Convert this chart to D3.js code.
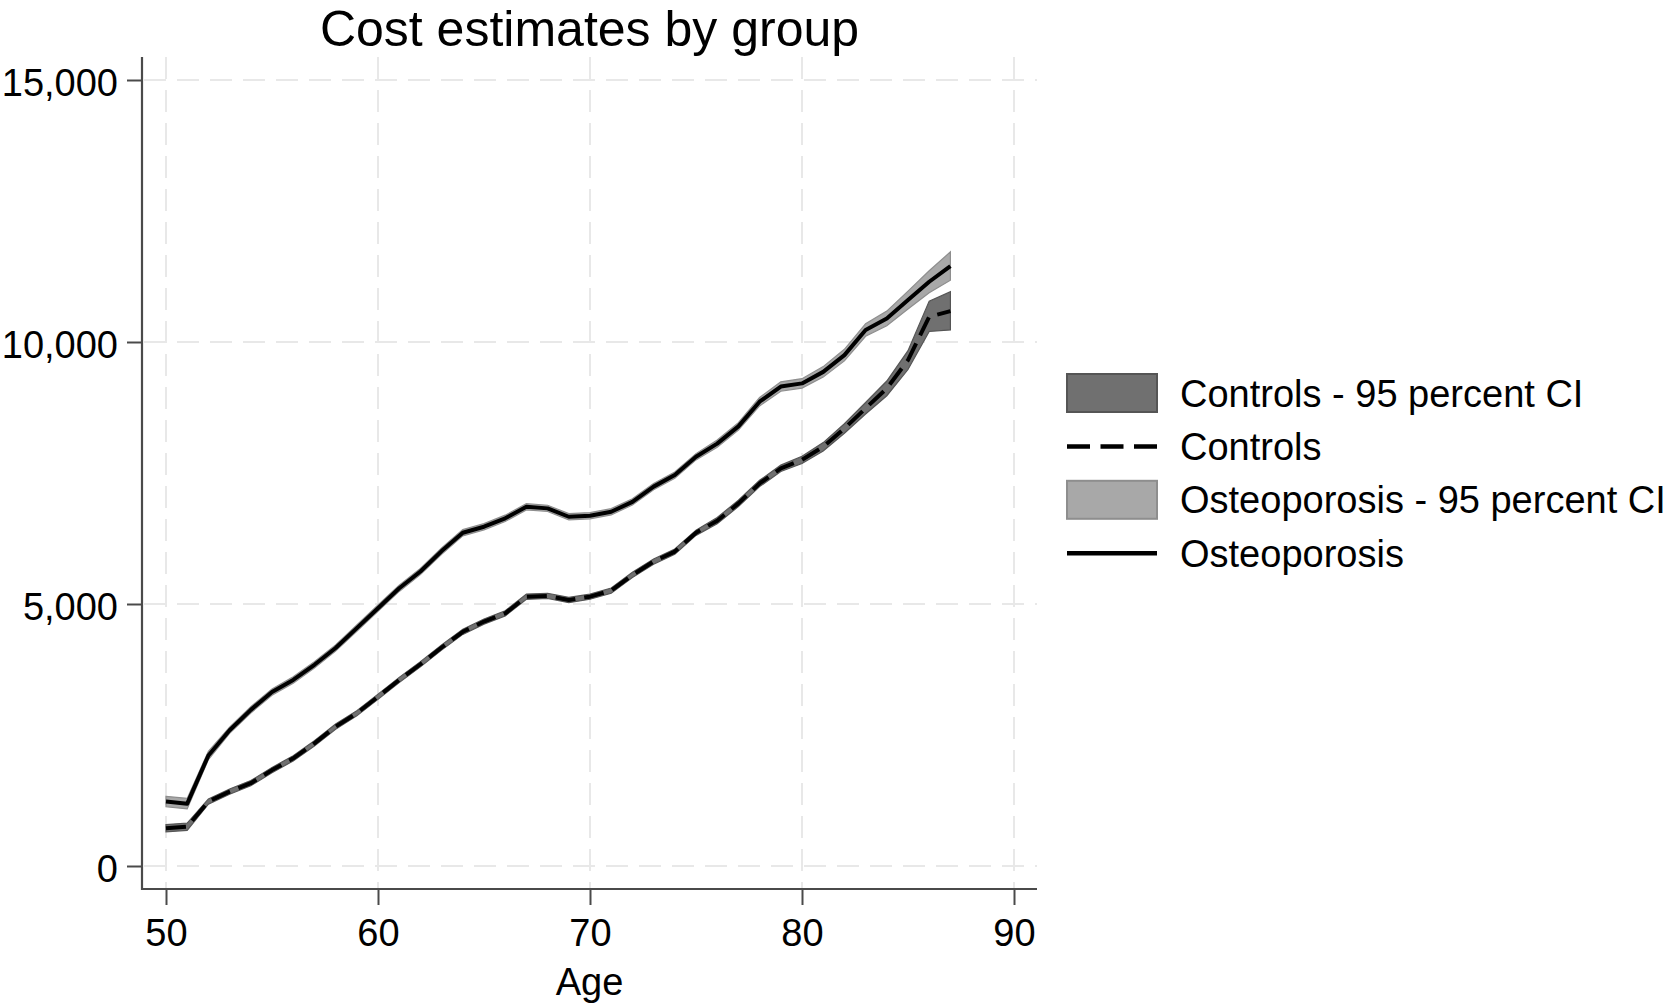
<!DOCTYPE html>
<html>
<head>
<meta charset="utf-8">
<script src="https://cdn.jsdelivr.net/npm/d3@7"></script>
<style>
  body { margin: 0; background: #fff; }
  text { font-family: "Liberation Sans", Arial, sans-serif; fill: #000; }
</style>
</head>
<body>
<svg id="chart" width="1674" height="1006"></svg>
<script>
'use strict';

// data (age 50..87)
const ages = [50, 51, 52, 53, 54, 55, 56, 57, 58, 59, 60, 61, 62, 63, 64, 65, 66, 67, 68,
  69, 70, 71, 72, 73, 74, 75, 76, 77, 78, 79, 80, 81, 82, 83, 84, 85, 86, 87];

const ostMean = [1230, 1190, 2110, 2590, 2980, 3320, 3550, 3840, 4160, 4540, 4920, 5300,
  5620, 6010, 6360, 6475, 6635, 6855, 6825, 6665, 6685, 6760, 6950, 7240, 7460, 7810,
  8060, 8390, 8860, 9150, 9210, 9430, 9750, 10230, 10450, 10800, 11150, 11450];
const ostLo = [1130, 1090, 2030, 2530, 2920, 3260, 3490, 3780, 4100, 4480, 4860, 5240,
  5560, 5950, 6300, 6415, 6575, 6795, 6765, 6605, 6625, 6700, 6890, 7180, 7400, 7750,
  7990, 8320, 8780, 9060, 9120, 9330, 9640, 10110, 10310, 10630, 10940, 11180];
const ostHi = [1330, 1290, 2190, 2650, 3040, 3380, 3610, 3900, 4220, 4600, 4980, 5360,
  5680, 6070, 6420, 6535, 6695, 6915, 6885, 6725, 6745, 6820, 7010, 7300, 7520, 7870,
  8130, 8460, 8940, 9240, 9300, 9530, 9860, 10350, 10590, 10970, 11360, 11720];

const ctlMean = [720, 750, 1230, 1420, 1580, 1830, 2055, 2340, 2660, 2915, 3230, 3550,
  3850, 4170, 4470, 4665, 4820, 5140, 5155, 5075, 5140, 5255, 5555, 5810, 6000, 6360,
  6590, 6920, 7300, 7590, 7750, 8000, 8350, 8735, 9115, 9655, 10480, 10590];
const ctlLo = [650, 680, 1180, 1370, 1530, 1780, 2005, 2290, 2610, 2865, 3180, 3500,
  3800, 4120, 4420, 4615, 4770, 5090, 5105, 5025, 5090, 5205, 5505, 5760, 5950, 6310,
  6530, 6860, 7240, 7530, 7680, 7920, 8260, 8625, 8975, 9475, 10200, 10230];
const ctlHi = [790, 820, 1280, 1470, 1630, 1880, 2105, 2390, 2710, 2965, 3280, 3600,
  3900, 4220, 4520, 4715, 4870, 5190, 5205, 5125, 5190, 5305, 5605, 5860, 6050, 6410,
  6650, 6980, 7360, 7650, 7820, 8080, 8440, 8845, 9255, 9835, 10780, 10960];

const xTicks = [50, 60, 70, 80, 90];
const yTicks = [0, 5000, 10000, 15000];
const legendLabels = ['Controls - 95 percent CI', 'Controls',
  'Osteoporosis - 95 percent CI', 'Osteoporosis'];

const svg = d3.select('#chart');

// plot region
const plot = { left: 142, right: 1037, top: 57, bottom: 889 };

const x = d3.scaleLinear().domain([50, 90]).range([166, 1014]);
const y = d3.scaleLinear().domain([0, 15000]).range([866, 80]);

//gridlines
const gridColor = '#e8e8e8';
svg.append('g')
  .selectAll('line')
  .data(yTicks)
  .join('line')
  .attr('x1', plot.left + 2).attr('x2', plot.right)
  .attr('y1', (d) => y(d)).attr('y2', (d) => y(d))
  .attr('stroke', gridColor).attr('stroke-width', 2)
  .attr('stroke-dasharray', '22,11');
svg.append('g')
  .selectAll('line')
  .data(xTicks)
  .join('line')
  .attr('x1', (d) => x(d)).attr('x2', (d) => x(d))
  .attr('y1', plot.top).attr('y2', plot.bottom)
  .attr('stroke', gridColor).attr('stroke-width', 2)
  .attr('stroke-dasharray', '22,11');

const rows = ages.map((a, i) => ({
  age: a, om: ostMean[i], ol: ostLo[i], oh: ostHi[i],
  cm: ctlMean[i], cl: ctlLo[i], ch: ctlHi[i],
}));

const band = (lo, hi) => d3.area().x((d) => x(d.age)).y0((d) => y(d[lo])).y1((d) => y(d[hi]));
const line = (key) => d3.line().x((d) => x(d.age)).y((d) => y(d[key]));

const ctlFill = '#707070', ctlEdge = '#555555';
const ostFill = '#a8a8a8', ostEdge = '#8e8e8e';

// controls CI + line
svg.append('path').datum(rows)
  .attr('d', band('cl', 'ch'))
  .attr('fill', ctlFill).attr('stroke', ctlEdge).attr('stroke-width', 1.2);
svg.append('path').datum(rows)
  .attr('d', line('cm'))
  .attr('fill', 'none').attr('stroke', '#000').attr('stroke-width', 4)
  .attr('stroke-dasharray', '20,9').attr('stroke-linejoin', 'round');

// osteoporosis CI + line
svg.append('path').datum(rows)
  .attr('d', band('ol', 'oh'))
  .attr('fill', ostFill).attr('stroke', ostEdge).attr('stroke-width', 1.2);
svg.append('path').datum(rows)
  .attr('d', line('om'))
  .attr('fill', 'none').attr('stroke', '#000').attr('stroke-width', 4)
  .attr('stroke-linejoin', 'round');

// axes
const axisColor = '#4a4a4a';
const yAxis = svg.append('g')
  .attr('transform', `translate(${plot.left},0)`)
  .call(d3.axisLeft(y).tickValues(yTicks).tickFormat(d3.format(',')).tickSize(15).tickPadding(9));
const xAxis = svg.append('g')
  .attr('transform', `translate(0,${plot.bottom})`)
  .call(d3.axisBottom(x).tickValues(xTicks).tickSize(16).tickPadding(14));
[yAxis, xAxis].forEach((g) => {
  g.select('.domain').remove();
  g.selectAll('.tick line').attr('stroke', axisColor).attr('stroke-width', 2);
  g.selectAll('.tick text').attr('font-size', 38)
    .style('font-family', '"Liberation Sans", Arial, sans-serif').attr('fill', '#000');
});
yAxis.selectAll('.tick text').attr('dy', '0.4em');
xAxis.selectAll('.tick text').attr('dy', '0.72em');

svg.append('line')
  .attr('x1', plot.left).attr('x2', plot.left)
  .attr('y1', plot.top).attr('y2', plot.bottom + 1)
  .attr('stroke', axisColor).attr('stroke-width', 2.2);
svg.append('line')
  .attr('x1', plot.left - 1).attr('x2', plot.right)
  .attr('y1', plot.bottom).attr('y2', plot.bottom)
  .attr('stroke', axisColor).attr('stroke-width', 2.2);

// titles
svg.append('text')
  .attr('x', (plot.left + plot.right) / 2).attr('y', 46)
  .attr('text-anchor', 'middle').attr('font-size', 50)
  .text('Cost estimates by group');
svg.append('text')
  .attr('x', (plot.left + plot.right) / 2).attr('y', 995)
  .attr('text-anchor', 'middle').attr('font-size', 38)
  .text('Age');

// legend
const leg = svg.append('g').attr('transform', 'translate(1067,393)');
const rowH = 53.4;
legendLabels.forEach((lab, i) => {
  const cy = i * rowH;
  if (i === 0 || i === 2) {
    leg.append('rect')
      .attr('x', 0).attr('y', cy - 19).attr('width', 90).attr('height', 38)
      .attr('fill', i === 0 ? ctlFill : ostFill)
      .attr('stroke', i === 0 ? ctlEdge : ostEdge).attr('stroke-width', 2);
  } else {
    leg.append('line')
      .attr('x1', 0).attr('x2', 90).attr('y1', cy).attr('y2', cy)
      .attr('stroke', '#000').attr('stroke-width', 4.5)
      .attr('stroke-dasharray', i === 1 ? '23,10.5' : null);
  }
  leg.append('text')
    .attr('x', 113).attr('y', cy + 13.5)
    .attr('font-size', 38)
    .text(lab);
});
</script>
</body>
</html>
